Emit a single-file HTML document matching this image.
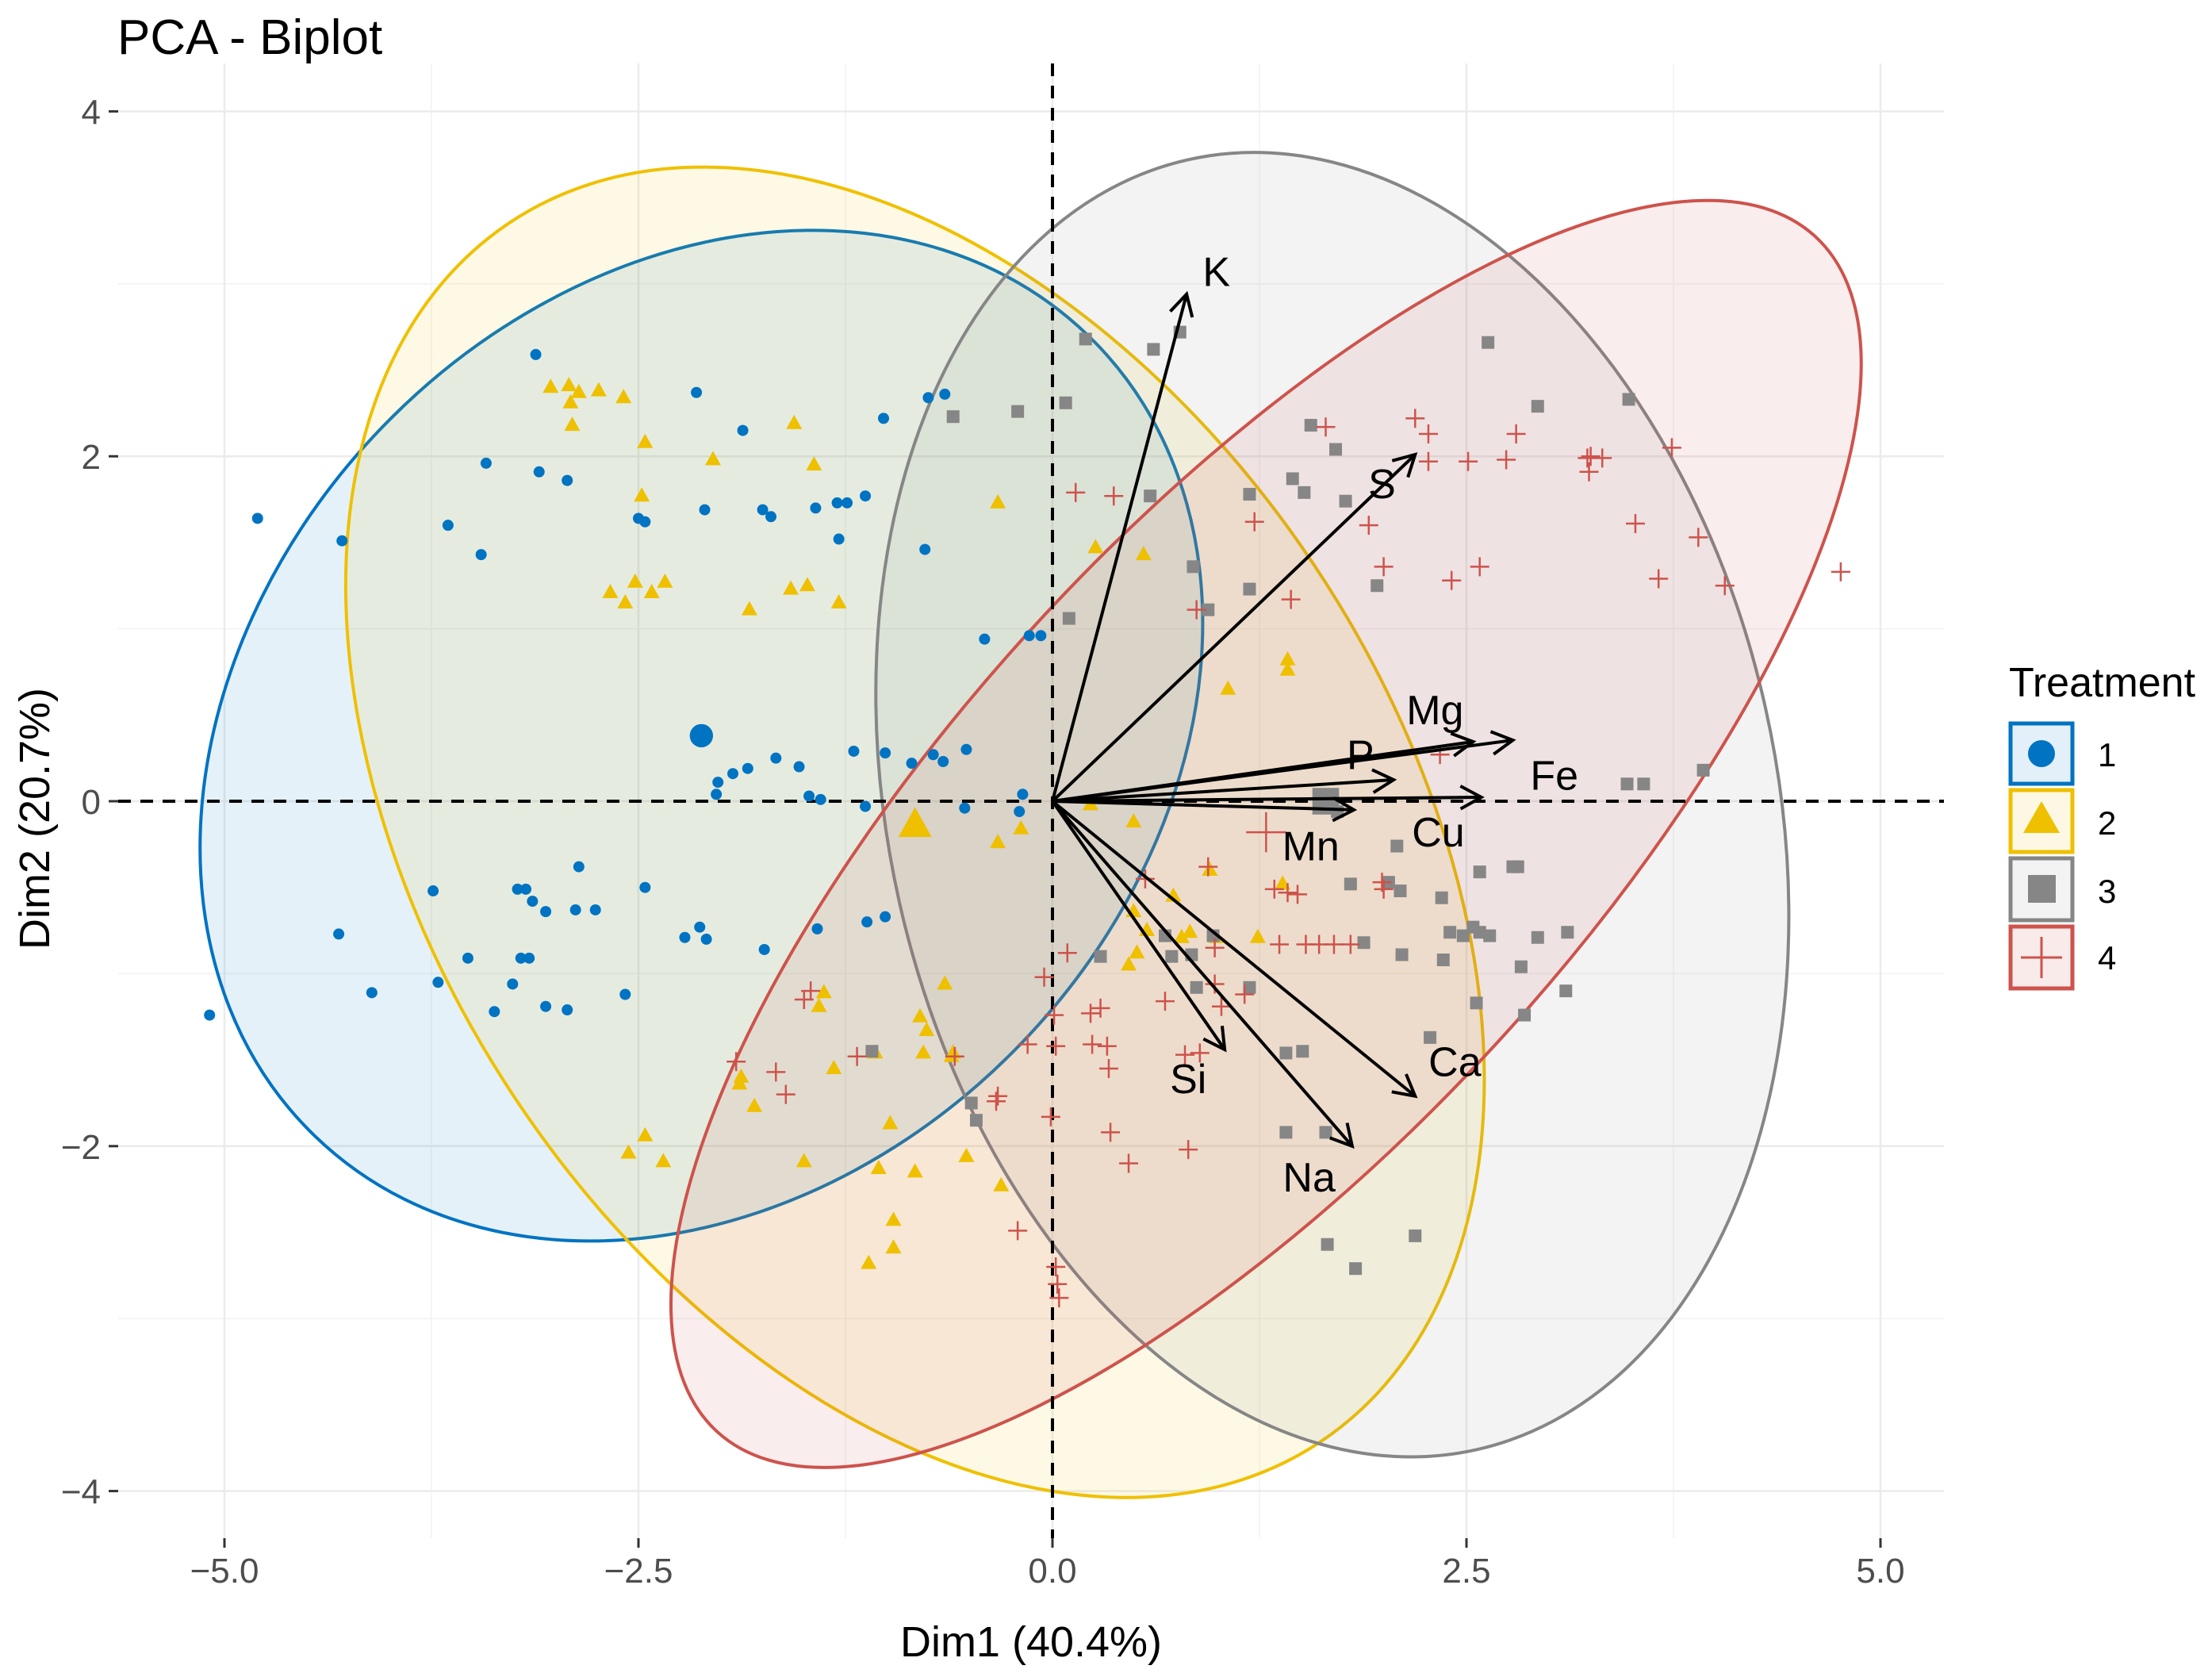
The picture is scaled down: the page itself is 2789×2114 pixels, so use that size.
<!DOCTYPE html>
<html><head><meta charset="utf-8"><style>
html,body{margin:0;padding:0;background:#fff;overflow:hidden;width:2789px;height:2114px}
svg{display:block;font-family:"Liberation Sans",Arial,sans-serif}
</style></head><body>
<svg id="chart" width="2789" height="2114" viewBox="0 0 2789 2114" xmlns="http://www.w3.org/2000/svg">
<text x="148" y="68" font-size="62" fill="#000">PCA - Biplot</text>
<g id="grid"></g>
<g id="ellipses"></g>
<g id="refs"></g>
<g id="points"></g>
<g id="arrows"></g>
<g id="axes"></g>
<text x="1300" y="2088" font-size="54" text-anchor="middle" fill="#000">Dim1 (40.4%)</text>
<text x="0" y="0" font-size="54" text-anchor="middle" fill="#000" transform="translate(62,1032) rotate(-90)">Dim2 (20.7%)</text>
<g>
<text x="2533" y="878" font-size="52" fill="#000">Treatment</text>
<g>
<rect x="2535" y="912" width="78" height="76" fill="#e3eff9" stroke="#0073C2" stroke-width="5"/>
<circle cx="2574" cy="950" r="17" fill="#0073C2"/>
<text x="2645" y="966" font-size="42">1</text></g>
<g>
<rect x="2535" y="996" width="78" height="78" fill="#fdf8e3" stroke="#EFC000" stroke-width="5"/>
<polygon points="2574,1010 2597,1050 2551,1050" fill="#EFC000"/>
<text x="2645" y="1052" font-size="42">2</text></g>
<g>
<rect x="2535" y="1082" width="78" height="78" fill="#f3f3f3" stroke="#868686" stroke-width="5"/>
<rect x="2557" y="1103" width="35" height="35" fill="#868686"/>
<text x="2645" y="1138" font-size="42">3</text></g>
<g>
<rect x="2535" y="1168" width="78" height="78" fill="#f9ebea" stroke="#CD534C" stroke-width="5"/>
<path d="M2548 1207 H2600 M2574 1181 V1233" stroke="#CD534C" stroke-width="3" fill="none"/>
<text x="2645" y="1222" font-size="42">4</text></g>
</g>
</svg>
<script>
const NS="http://www.w3.org/2000/svg";
const xTicks=[-5,-2.5,0,2.5,5];
const xTickLabels=["\u22125.0","\u22122.5","0.0","2.5","5.0"];
const yTicks=[-4,-2,0,2,4];
const yTickLabels=["\u22124","\u22122","0","2","4"];
const groupNames=["1","2","3","4"];
const groupColors=["#0073C2","#EFC000","#868686","#CD534C"];
const g1=[[-4.80,1.64],[-4.29,1.51],[-5.09,-1.24],[-4.31,-0.77],[-4.11,-1.11],[-3.12,2.59],[-3.42,1.96],[-3.65,1.60],[-3.45,1.43],[-3.10,1.91],[-2.93,1.86],[-2.15,2.37],[-1.87,2.15],[-2.10,1.69],[-2.50,1.64],[-2.46,1.62],[-1.75,1.69],[-1.70,1.65],[-1.43,1.70],[-1.30,1.73],[-1.24,1.73],[-1.13,1.77],[-1.29,1.52],[-1.02,2.22],[-0.75,2.34],[-0.65,2.36],[-0.77,1.46],[-0.41,0.94],[-0.14,0.96],[-0.07,0.96],[-2.02,0.11],[-2.03,0.04],[-1.93,0.16],[-1.84,0.19],[-1.67,0.25],[-1.53,0.20],[-1.47,0.03],[-1.40,0.01],[-1.20,0.29],[-1.01,0.28],[-0.85,0.22],[-0.72,0.27],[-0.66,0.23],[-0.52,0.30],[-1.13,-0.03],[-0.53,-0.04],[-0.20,-0.06],[-0.18,0.04],[-3.74,-0.52],[-3.23,-0.51],[-3.18,-0.51],[-3.14,-0.58],[-3.06,-0.64],[-2.86,-0.38],[-2.88,-0.63],[-2.76,-0.63],[-2.46,-0.50],[-3.53,-0.91],[-3.21,-0.91],[-3.16,-0.91],[-3.26,-1.06],[-3.71,-1.05],[-3.37,-1.22],[-3.06,-1.19],[-2.93,-1.21],[-2.58,-1.12],[-2.22,-0.79],[-2.13,-0.73],[-2.09,-0.80],[-1.74,-0.86],[-1.42,-0.74],[-1.12,-0.70],[-1.01,-0.67]];
const g2=[[-3.03,2.40],[-2.92,2.41],[-2.86,2.37],[-2.91,2.31],[-2.74,2.38],[-2.90,2.18],[-2.59,2.34],[-2.46,2.08],[-2.05,1.98],[-1.56,2.19],[-1.44,1.95],[-2.48,1.77],[-2.67,1.21],[-2.58,1.15],[-2.52,1.27],[-2.42,1.21],[-2.34,1.27],[-1.83,1.11],[-1.58,1.23],[-1.48,1.25],[-1.29,1.15],[-0.33,1.73],[0.26,1.47],[0.55,1.43],[1.42,0.82],[1.42,0.76],[1.06,0.65],[-0.33,-0.24],[-0.19,-0.16],[0.23,-0.02],[0.49,-0.12],[0.73,-0.55],[0.95,-0.40],[1.39,-0.48],[0.49,-0.64],[0.51,-0.88],[0.46,-0.95],[0.57,-0.75],[0.78,-0.79],[0.83,-0.76],[0.99,-0.79],[1.24,-0.79],[-1.38,-1.11],[-1.41,-1.19],[-1.32,-1.55],[-1.07,-1.46],[-0.65,-1.06],[-0.80,-1.25],[-0.76,-1.33],[-0.78,-1.46],[-0.61,-1.48],[-0.60,-1.46],[-1.89,-1.64],[-1.88,-1.60],[-1.80,-1.77],[-1.50,-2.09],[-0.98,-1.87],[-1.05,-2.13],[-0.83,-2.15],[-0.52,-2.06],[-0.31,-2.23],[-0.96,-2.43],[-0.96,-2.59],[-1.11,-2.68],[-2.56,-2.04],[-2.46,-1.94],[-2.35,-2.09]];
const g3=[[0.20,2.68],[0.77,2.72],[0.61,2.62],[-0.60,2.23],[-0.21,2.26],[0.08,2.31],[0.59,1.77],[1.19,1.78],[1.45,1.87],[1.56,2.18],[1.71,2.04],[1.52,1.79],[1.77,1.74],[2.63,2.66],[2.93,2.29],[3.48,2.33],[1.96,1.25],[0.85,1.36],[0.94,1.11],[1.19,1.23],[0.10,1.06],[3.47,0.10],[3.57,0.10],[3.93,0.18],[1.72,-0.06],[2.08,-0.26],[1.80,-0.48],[2.03,-0.47],[2.10,-0.52],[2.35,-0.56],[2.58,-0.41],[2.78,-0.38],[2.81,-0.38],[2.40,-0.76],[2.48,-0.78],[2.54,-0.73],[2.58,-0.76],[2.64,-0.78],[2.93,-0.79],[3.11,-0.76],[2.83,-0.96],[3.10,-1.10],[2.85,-1.24],[2.56,-1.17],[2.11,-0.89],[2.36,-0.92],[1.88,-0.82],[0.97,-0.78],[0.84,-0.89],[0.72,-0.90],[0.87,-1.08],[1.19,-1.08],[0.68,-0.78],[0.29,-0.90],[2.28,-1.37],[1.41,-1.46],[1.51,-1.45],[-1.09,-1.45],[-0.49,-1.75],[-0.46,-1.85],[1.41,-1.92],[1.65,-1.92],[1.66,-2.57],[1.83,-2.71],[2.19,-2.52]];
const g4=[[1.65,2.17],[2.19,2.22],[2.27,2.13],[2.27,1.97],[2.51,1.97],[2.74,1.98],[2.80,2.13],[3.23,1.99],[3.25,2.00],[3.32,1.99],[3.24,1.91],[3.74,2.05],[0.14,1.79],[0.37,1.77],[1.22,1.62],[1.91,1.60],[2.00,1.36],[2.58,1.36],[2.41,1.28],[3.52,1.61],[3.90,1.53],[3.66,1.29],[4.06,1.25],[4.76,1.33],[1.44,1.17],[0.87,1.11],[2.34,0.27],[0.94,-0.38],[0.56,-0.45],[1.34,-0.51],[1.42,-0.53],[1.48,-0.54],[1.99,-0.47],[2.00,-0.51],[1.37,-0.83],[1.53,-0.83],[1.61,-0.83],[1.70,-0.83],[1.80,-0.83],[0.98,-0.85],[0.09,-0.88],[-0.05,-1.02],[0.01,-1.24],[0.23,-1.23],[0.29,-1.20],[0.68,-1.16],[0.98,-1.06],[1.02,-1.19],[1.16,-1.12],[-0.15,-1.41],[0.02,-1.42],[0.24,-1.41],[0.33,-1.42],[0.34,-1.55],[0.80,-1.47],[0.89,-1.46],[-0.33,-1.71],[-0.34,-1.74],[-0.01,-1.83],[0.35,-1.92],[0.46,-2.10],[0.82,-2.02],[-0.21,-2.49],[0.02,-2.70],[0.04,-2.88],[0.03,-2.80],[-1.46,-1.10],[-1.50,-1.15],[-1.91,-1.51],[-1.67,-1.57],[-1.61,-1.70],[-1.18,-1.48],[-0.59,-1.48]];
const groupMeans=[[-2.12,0.38],[-0.83,-0.14],[1.65,0.0],[1.29,-0.18]];
const varNames=["K","S","Mg","Fe","P","Cu","Mn","Si","Na","Ca"];
const varX=[0.81,2.19,2.54,2.78,2.06,2.59,1.82,1.04,1.81,2.19];
const varY=[2.94,2.01,0.345,0.354,0.124,0.023,-0.05,-1.44,-2.00,-1.71];
const labelX=[0.99,1.99,2.31,3.03,1.86,2.33,1.56,0.82,1.55,2.43];
const labelY=[3.07,1.84,0.53,0.15,0.27,-0.18,-0.26,-1.61,-2.18,-1.51];
// ellipse parameters: center (data), semi-axes (in x data units), angle deg
const ellCx=[-2.12,-0.83,1.69,1.29];
const ellCy=[0.38,-0.18,-0.02,-0.19];
const ellA=[3.36,4.42,3.99,4.90];
const ellB=[2.68,2.90,2.68,1.88];
const ellAng=[-46,56.4,77.4,-47.4];

const X0=1327,Y0=1010,KX=208.8,KY=217.4;
const sx=v=>X0+v*KX, sy=v=>Y0-v*KY;
const L=149,R=2451,T=80,B=1939;
function mk(tag,attrs,parent){const e=document.createElementNS(NS,tag);for(const k in attrs)e.setAttribute(k,attrs[k]);parent.appendChild(e);return e;}
const grid=document.getElementById('grid');
mk('rect',{x:L,y:T,width:R-L,height:B-T,fill:'#fff'},grid);
[-3.75,-1.25,1.25,3.75].forEach(v=>{const e=mk('line',{x1:sx(v),x2:sx(v),y1:T,y2:B,stroke:'#f2f2f2','stroke-width':1.5},grid);});
[-3,-1,1,3].forEach(v=>{const e=mk('line',{x1:L,x2:R,y1:sy(v),y2:sy(v),stroke:'#f2f2f2','stroke-width':1.5},grid);});
xTicks.forEach(v=>{const e=mk('line',{x1:sx(v),x2:sx(v),y1:T,y2:B,stroke:'#ebebeb','stroke-width':2.5},grid);});
yTicks.forEach(v=>{const e=mk('line',{x1:L,x2:R,y1:sy(v),y2:sy(v),stroke:'#ebebeb','stroke-width':2.5},grid);});
const axes=document.getElementById('axes');
xTicks.forEach((v,i)=>{mk('line',{x1:sx(v),x2:sx(v),y1:B,y2:B+12,stroke:'#333','stroke-width':3},axes);
const t=mk('text',{x:sx(v),y:B+56,'font-size':44,fill:'#4d4d4d','text-anchor':'middle'},axes);t.textContent=xTickLabels[i];
});
yTicks.forEach((v,i)=>{mk('line',{x1:L-12,x2:L,y1:sy(v),y2:sy(v),stroke:'#333','stroke-width':3},axes);
const t=mk('text',{x:L-22,y:sy(v)+16,'font-size':44,fill:'#4d4d4d','text-anchor':'end'},axes);t.textContent=yTickLabels[i];
});
const eg=document.getElementById('ellipses');
for(let i=0;i<4;i++){const e=mk('ellipse',{cx:sx(ellCx[i]),cy:sy(ellCy[i]),rx:ellA[i]*KX,ry:ellB[i]*KX,fill:groupColors[i],'fill-opacity':0.1,stroke:groupColors[i],'stroke-width':4,transform:`rotate(${ellAng[i]} ${sx(ellCx[i])} ${sy(ellCy[i])})`},eg);
}
const rg=document.getElementById('refs');
mk('line',{x1:L,x2:R,y1:sy(0),y2:sy(0),stroke:'#000','stroke-width':4,'stroke-dasharray':'16 12'},rg);
mk('line',{x1:sx(0),x2:sx(0),y1:T,y2:B,stroke:'#000','stroke-width':4,'stroke-dasharray':'16 12'},rg);
const pg=document.getElementById('points');
function marker(i,x,y,s,parent){const c=groupColors[i];let e;
if(i===0)e=mk('circle',{cx:x,cy:y,r:7*s,fill:c},parent);
else if(i===1)e=mk('polygon',{points:`${x},${y-11*s} ${x+10*s},${y+7*s} ${x-10*s},${y+7*s}`,fill:c},parent);
else if(i===2)e=mk('rect',{x:x-8*s,y:y-8*s,width:16*s,height:16*s,fill:c},parent);
else e=mk('path',{d:`M${x-12*s} ${y}H${x+12*s}M${x} ${y-12*s}V${y+12*s}`,stroke:c,'stroke-width':2.5,fill:'none'},parent);
return e;}
[g1,g2,g3,g4].forEach((arr,i)=>{arr.forEach(p=>{const e=marker(i,sx(p[0]),sy(p[1]),1,pg);
});});
groupMeans.forEach((p,i)=>{const e=marker(i,sx(p[0]),sy(p[1]),2.1,pg);
});
const ag=document.getElementById('arrows');
varNames.forEach((n,i)=>{const x2=sx(varX[i]),y2=sy(varY[i]);
const g=mk('g',{},ag);
mk('line',{x1:sx(0),y1:sy(0),x2:x2,y2:y2,stroke:'#000','stroke-width':4},g);
const ang=Math.atan2(y2-sy(0),x2-sx(0));const h=30;
const a1=ang+Math.PI-0.5,a2=ang+Math.PI+0.5;
mk('path',{d:`M${x2+h*Math.cos(a1)} ${y2+h*Math.sin(a1)}L${x2} ${y2}L${x2+h*Math.cos(a2)} ${y2+h*Math.sin(a2)}`,stroke:'#000','stroke-width':4,fill:'none'},g);
const t=mk('text',{x:sx(labelX[i]),y:sy(labelY[i])+18,'font-size':52,'text-anchor':'middle',fill:'#000'},ag);t.textContent=n;
});
</script>
</body></html>
